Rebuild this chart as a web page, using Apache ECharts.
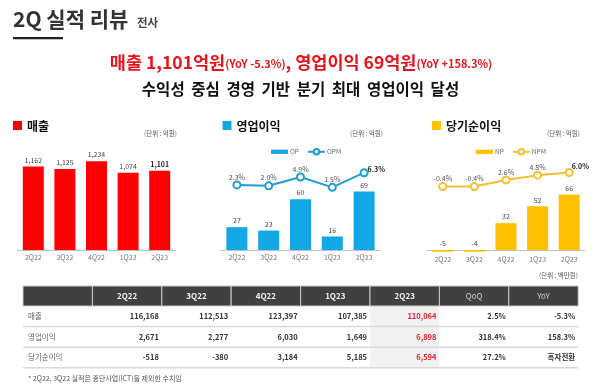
<!DOCTYPE html>
<html><head><meta charset="utf-8">
<script src="https://cdn.jsdelivr.net/npm/echarts@6/dist/echarts.min.js"></script>
<style>html,body{margin:0;padding:0;background:#fff}#c{width:600px;height:389px}</style>
</head><body><div id="c"></div>
<script>
// ---- data ----
const quarters = ['2Q22', '3Q22', '4Q22', '1Q23', '2Q23'];
const salesValues = [1162, 1125, 1234, 1074, 1101];
const opValues = [27, 23, 60, 16, 69];
const opmValues = [2.3, 2.0, 4.9, 1.5, 6.3];
const npValues = [-5, -4, 32, 52, 66];
const npmValues = [-0.4, -0.4, 2.6, 4.8, 6.0];

const tableHeaders = ['', '2Q22', '3Q22', '4Q22', '1Q23', '2Q23', 'QoQ', 'YoY'];
const tableRowNames = ['매출', '영업이익', '당기순이익'];
const tableSales = ['116,168', '112,513', '123,397', '107,385', '110,064', '2.5%', '-5.3%'];
const tableOp = ['2,671', '2,277', '6,030', '1,649', '6,898', '318.4%', '158.3%'];
const tableNp = ['-518', '-380', '3,184', '5,185', '6,594', '27.2%', '흑자전환'];
const tableRows = [tableSales, tableOp, tableNp];

// ---- style ----
const FONT = "'Noto Sans CJK KR', 'Noto Sans', sans-serif";
const RED = '#ff0000', BLUE = '#12a8e6', GOLD = '#ffc000';
const LINE_BLUE = '#1c9fd6', LINE_GOLD = '#f6c02c';
const HL_RED = '#e8141c';

const chart = echarts.init(document.getElementById('c'), null, {renderer: 'canvas'});

function txt(text, x, y, size, opts) {
  opts = opts || {};
  return {
    type: 'text', silent: true,
    style: Object.assign({
      text: text, x: x, y: y,
      font: (opts.weight || 'normal') + ' ' + size + 'px ' + FONT,
      fill: opts.color || '#333',
      textAlign: opts.align || 'left',
      textVerticalAlign: 'middle'
    }, opts.extra || {})
  };
}

const graphics = [];
// page title
graphics.push(txt('2Q 실적 리뷰', 13, 19, 21, {weight: 'bold', color: '#333'}));
graphics.push(txt('전사', 137, 22.5, 11.5, {weight: 'bold', color: '#444'}));
graphics.push({type: 'rect', silent: true, shape: {x: 13, y: 37, width: 50, height: 2.2}, style: {fill: '#222'}});

// headline
graphics.push({
  type: 'text', silent: true,
  style: {
    text: '{a|매출 1,101억원}{b|(YoY -5.3%)}{a|, 영업이익 69억원}{b|(YoY +158.3%)}',
    x: 301, y: 62, textAlign: 'center', textVerticalAlign: 'middle',
    rich: {
      a: {font: 'bold 17.5px ' + FONT, fill: HL_RED},
      b: {font: 'bold 11px ' + FONT, fill: HL_RED, padding: [3, 0, 0, 0]}
    }
  }
});
graphics.push(txt('수익성 중심 경영 기반 분기 최대 영업이익 달성'.split(' ').join(' \u2009'), 300.5, 89, 15.5, {weight: 'bold', color: '#111', align: 'center'}));

// chart headers
const panels = [
  {x: 13, label: '매출', color: RED, unitX: 177},
  {x: 222.5, label: '영업이익', color: BLUE, unitX: 383},
  {x: 432, label: '당기순이익', color: GOLD, unitX: 580}
];
panels.forEach(p => {
  graphics.push({type: 'rect', silent: true, shape: {x: p.x, y: 121, width: 9, height: 9}, style: {fill: p.color}});
  graphics.push(txt(p.label, p.x + 14, 126, 12, {weight: 'bold', color: '#111'}));
  graphics.push(txt('(단위 : 억원)', p.unitX, 134, 6.5, {color: '#555', align: 'right'}));
});

// table
const tx0 = 23, colW = 69.4, hY = 286, hH = 20, rY = 306, rH = 20.6;
graphics.push({type: 'rect', silent: true, shape: {x: tx0 + 5 * colW, y: rY, width: colW, height: rH * 3}, style: {fill: '#f1f1f1'}});
tableHeaders.forEach((h, i) => {
  graphics.push({type: 'rect', silent: true, shape: {x: tx0 + i * colW, y: hY, width: colW, height: hH},
    style: {fill: '#404040', stroke: '#c9c9c9', lineWidth: 1}});
  if (h) {
    const light = (h === 'QoQ' || h === 'YoY');
    graphics.push(txt(h, tx0 + (i + 0.5) * colW, hY + hH / 2, 8, {weight: light ? 'normal' : 'bold', color: light ? '#cfcfcf' : '#f2f2f2', align: 'center'}));
  }
});
for (let r = 0; r < 3; r++) {
  graphics.push({type: 'line', silent: true, shape: {x1: tx0, y1: rY + (r + 1) * rH, x2: tx0 + 8 * colW, y2: rY + (r + 1) * rH},
    style: {stroke: '#d9d9d9', lineWidth: 1.5}});
  const cy = rY + r * rH + rH / 2;
  graphics.push(txt(tableRowNames[r], tx0 + 5, cy, 7.5, {color: '#666'}));
  tableRows[r].forEach((v, c) => {
    graphics.push(txt(v, tx0 + (c + 2) * colW - 3, cy, 7.5, {weight: 'bold', color: c === 4 ? '#e3222b' : '#333', align: 'right'}));
  });
}
graphics.push(txt('(단위 : 백만원)', 578, 276, 6.5, {color: '#555', align: 'right'}));
graphics.push(txt('* 2Q22, 3Q22 실적은 중단사업(ICT)을 제외한 수치임', 28, 378, 7, {color: '#555'}));

// ---- axes ----
const grids = [
  {left: 17.5, top: 140, width: 158, height: 110},
  {left: 221, top: 140, width: 159, height: 110},
  {left: 427, top: 141.7, width: 158, height: 110}
];
const xAxes = grids.map((g, i) => ({
  type: 'category', gridIndex: i, data: quarters,
  axisLine: {lineStyle: {color: '#bfbfbf', width: 1}},
  axisTick: {show: false},
  axisLabel: {color: '#777', fontSize: 7, margin: 4, fontFamily: FONT}
}));
const yBase = {type: 'value', show: false, splitLine: {show: false}};
const yAxes = [
  Object.assign({gridIndex: 0, min: 0, max: 1530}, yBase),
  Object.assign({gridIndex: 1, min: 0, max: 130}, yBase),
  Object.assign({gridIndex: 1, min: -19, max: 17}, yBase),
  Object.assign({gridIndex: 2, min: -2, max: 129}, yBase),
  Object.assign({gridIndex: 2, min: -30, max: 20}, yBase)
];

const barLabel = {show: true, position: 'top', distance: 3, fontSize: 7, color: '#444', fontFamily: FONT};
const lineLabel = {show: true, position: 'top', distance: 0, fontSize: 7, color: '#555', fontFamily: FONT, formatter: p => p.value.toFixed(1) + '%'};
const fmt = p => p.value.toLocaleString('en-US');

const salesData = salesValues.map((v, i) => i === salesValues.length - 1 ? {value: v, label: {fontWeight: 'bold', color: '#222'}} : v);
const opmData = opmValues.map((v, i) => i === opmValues.length - 1 ? {value: v, label: {position: 'right', distance: 1, offset: [-2, -3], fontWeight: 'bold', color: '#222'}} : v);
const npmData = npmValues.map((v, i) => i === npmValues.length - 1 ? {value: v, label: {position: 'right', distance: 1, offset: [-3, -6], fontWeight: 'bold', color: '#222'}} : v);

const legendBase = {top: 148, padding: 0, itemWidth: 17, itemHeight: 7, itemGap: 8, selectedMode: false,
  textStyle: {fontSize: 6.5, color: '#666', fontFamily: FONT, padding: [0, 0, 0, -3]}};

const option = {
  animation: false,
  backgroundColor: '#fff',
  textStyle: {fontFamily: FONT},
  grid: grids,
  xAxis: xAxes,
  yAxis: yAxes,
  legend: [
    Object.assign({left: 271, data: [{name: 'OP', icon: 'path://M0 0H16V4H0Z'}, {name: 'OPM'}]}, legendBase),
    Object.assign({left: 476, data: [{name: 'NP', icon: 'path://M0 0H16V4H0Z'}, {name: 'NPM'}]}, legendBase)
  ],
  graphic: graphics,
  series: [
    {name: '매출', type: 'bar', xAxisIndex: 0, yAxisIndex: 0, data: salesData, barWidth: 21,
      itemStyle: {color: RED}, label: Object.assign({formatter: fmt}, barLabel)},
    {name: 'OP', type: 'bar', xAxisIndex: 1, yAxisIndex: 1, data: opValues, barWidth: 21,
      itemStyle: {color: BLUE}, label: Object.assign({formatter: fmt}, barLabel)},
    {name: 'OPM', type: 'line', xAxisIndex: 1, yAxisIndex: 2, data: opmData,
      symbol: 'circle', symbolSize: 7, lineStyle: {color: LINE_BLUE, width: 2},
      itemStyle: {color: '#fff', borderColor: LINE_BLUE, borderWidth: 2}, label: lineLabel, z: 5},
    {name: 'NP', type: 'bar', xAxisIndex: 2, yAxisIndex: 3, data: npValues, barWidth: 21,
      itemStyle: {color: GOLD}, label: Object.assign({formatter: fmt}, barLabel)},
    {name: 'NPM', type: 'line', xAxisIndex: 2, yAxisIndex: 4, data: npmData,
      symbol: 'circle', symbolSize: 7, lineStyle: {color: LINE_GOLD, width: 2},
      itemStyle: {color: '#fff', borderColor: LINE_GOLD, borderWidth: 2}, label: lineLabel, z: 5}
  ]
};
chart.setOption(option);
</script>
</body></html>
